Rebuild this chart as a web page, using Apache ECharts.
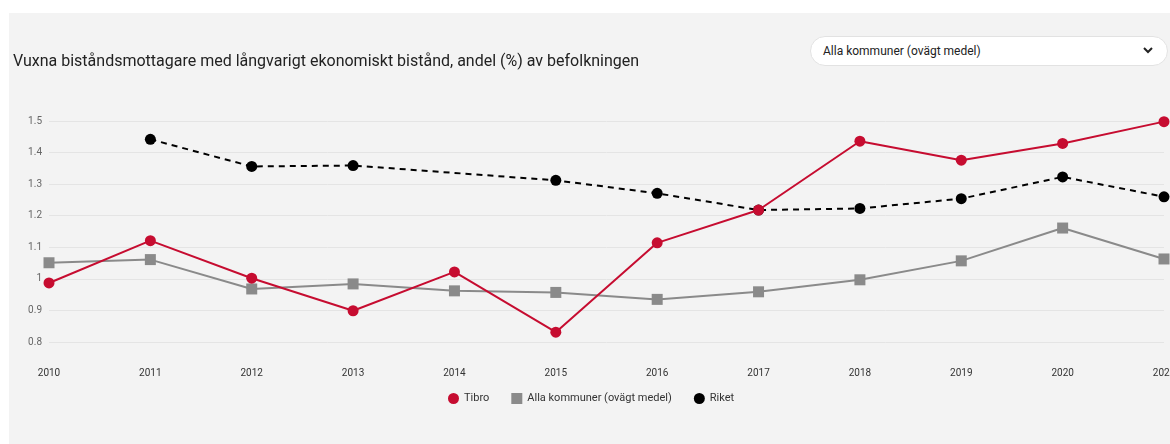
<!DOCTYPE html>
<html>
<head>
<meta charset="utf-8">
<script src="https://cdn.jsdelivr.net/npm/echarts@6/dist/echarts.min.js"></script>
<style>
    html, body { margin: 0; padding: 0; background: #fff; }
    body { width: 1170px; height: 444px; position: relative; overflow: hidden; font-family: Roboto, "Noto Sans", sans-serif; }
    .panel { position: absolute; left: 9px; top: 13px; right: 0; bottom: 0; background: #f3f3f3; }
    .chart { position: absolute; left: 0; top: 0; width: 1170px; height: 444px; }
    .dropdown {
        position: absolute; left: 810px; top: 36px; width: 358px; height: 30px;
        box-sizing: border-box; background: #fff; border: 1px solid #e2e2e2; border-radius: 15px;
        font-size: 12px; color: #222; line-height: 28px; padding-left: 12px;
    }
    .dropdown svg { position: absolute; right: 14px; top: 10px; }
</style>
</head>
<body>
<div class="panel"></div>
<div class="chart" id="chart"></div>
<div class="dropdown">Alla kommuner (ovägt medel)
    <svg width="10" height="7" viewBox="0 0 10 7"><path d="M1 1 L5 5 L9 1" fill="none" stroke="#222" stroke-width="2"/></svg>
</div>
<script>
const years = ['2010', '2011', '2012', '2013', '2014', '2015', '2016', '2017', '2018', '2019', '2020', '2021'];
const tibro = [0.987, 1.121, 1.002, 0.899, 1.022, 0.831, 1.114, 1.218, 1.436, 1.376, 1.429, 1.498];
const allaKommuner = [1.051, 1.061, 0.968, 0.984, 0.962, 0.957, 0.935, 0.959, 0.997, 1.057, 1.161, 1.063];
const riket = [null, 1.442, 1.356, 1.359, null, 1.312, 1.271, 1.218, 1.223, 1.254, 1.323, 1.260];
const seriesNames = ['Tibro', 'Alla kommuner (ovägt medel)', 'Riket'];

const chart = echarts.init(document.getElementById('chart'));
chart.setOption({
    backgroundColor: 'transparent',
    textStyle: { fontFamily: 'Roboto, "Noto Sans", sans-serif' },
    title: {
        text: 'Vuxna biståndsmottagare med långvarigt ekonomiskt bistånd, andel (%) av befolkningen',
        left: 8,
        top: 49,
        textStyle: { fontSize: 16, fontWeight: 'normal', color: '#222' }
    },
    legend: {
        left: 443,
        top: 388,
        itemWidth: 11,
        itemHeight: 11,
        itemGap: 22,
        textStyle: { fontSize: 11, color: '#333' },
        data: [
            { name: seriesNames[0], icon: 'circle' },
            { name: seriesNames[1], icon: 'rect' },
            { name: seriesNames[2], icon: 'circle' }
        ]
    },
    grid: { left: 49, right: 6, top: 121, bottom: 102, containLabel: false, outerBoundsMode: 'none' },
    xAxis: {
        type: 'category',
        data: years,
        boundaryGap: false,
        axisLine: { show: false },
        axisTick: { show: false },
        axisLabel: { margin: 26, fontSize: 10, color: '#333' }
    },
    yAxis: {
        type: 'value',
        min: 0.8,
        max: 1.5,
        interval: 0.1,
        axisLine: { show: false },
        axisTick: { show: false },
        axisLabel: { fontSize: 10, color: '#666', margin: 7 },
        splitLine: { lineStyle: { color: '#e4e4e4', width: 1 } }
    },
    series: [
        {
            name: seriesNames[0],
            type: 'line',
            data: tibro,
            symbol: 'circle',
            symbolSize: 11,
            color: '#c60c30',
            lineStyle: { width: 2, color: '#c60c30' },
            itemStyle: { color: '#c60c30' },
            z: 3
        },
        {
            name: seriesNames[1],
            type: 'line',
            data: allaKommuner,
            symbol: 'rect',
            symbolSize: 11,
            color: '#8a8a8a',
            lineStyle: { width: 2, color: '#8a8a8a' },
            itemStyle: { color: '#8a8a8a' },
            z: 2
        },
        {
            name: seriesNames[2],
            type: 'line',
            data: riket,
            connectNulls: true,
            symbol: 'circle',
            symbolSize: 11,
            color: '#000',
            lineStyle: { width: 2, color: '#000', type: [6, 5] },
            itemStyle: { color: '#000' },
            z: 2
        }
    ]
});
</script>
</body>
</html>
